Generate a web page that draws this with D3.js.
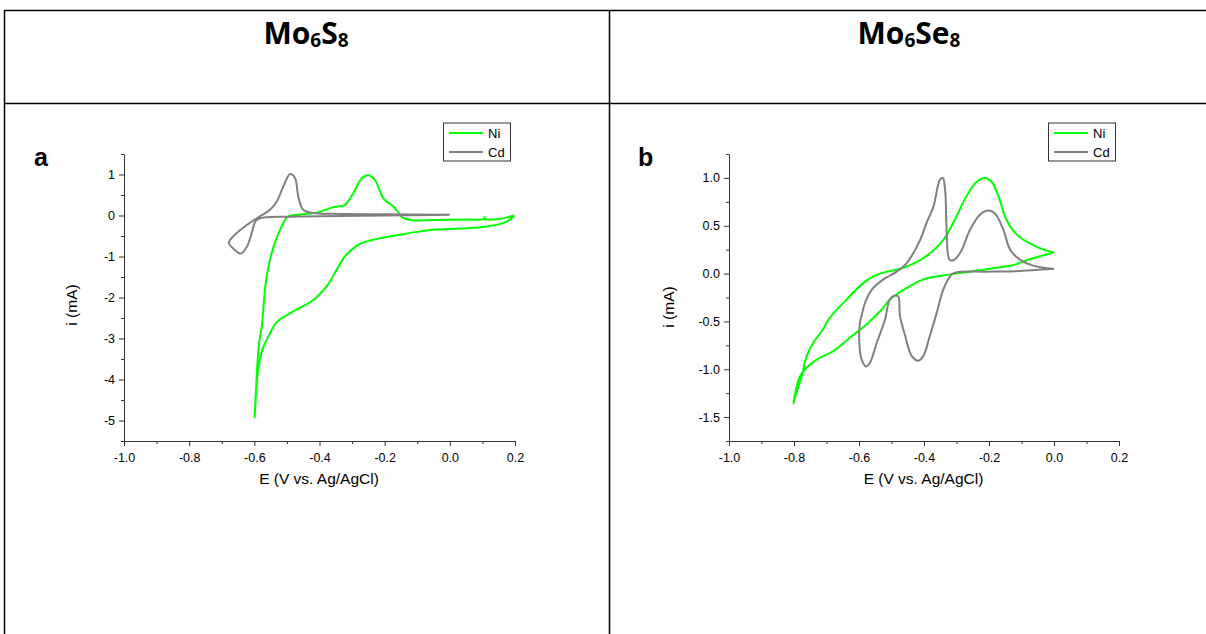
<!DOCTYPE html>
<html>
<head>
<meta charset="utf-8">
<script src="https://cdn.jsdelivr.net/npm/d3@7"></script>
<style>
  html, body { margin: 0; padding: 0; background: #fff; }
  svg { display: block; }
  text { font-family: "Liberation Sans", Arial, sans-serif; fill: #000; }
</style>
</head>
<body>
<div id="chart"></div>
<script>
// ---------- DATA ----------
const headers = ["Mo6S8", "Mo6Se8"];
const panelLetters = ["a", "b"];
const seriesNames = ["Ni", "Cd"];
const xTicks = [-1.0, -0.8, -0.6, -0.4, -0.2, 0.0, 0.2];
const yTicksA = [-5, -4, -3, -2, -1, 0, 1];
const yTicksB = [-1.5, -1.0, -0.5, 0.0, 0.5, 1.0];
const xDomain = [-1.0, 0.2];
const yDomainA = [-5.5, 1.5];
const yDomainB = [-1.75, 1.25];
const xLabel = "E (V vs. Ag/AgCl)";
const yLabel = "i (mA)";

// Panel a, Ni: [E (V), i (mA)]
const niA = [
  [0.198, 0.0], [0.175, -0.15], [0.113, -0.27], [0.03, -0.32], [-0.052, -0.35],
  [-0.153, -0.47], [-0.255, -0.63], [-0.286, -0.74], [-0.322, -1.0], [-0.347, -1.32],
  [-0.378, -1.73], [-0.419, -2.06], [-0.48, -2.34], [-0.531, -2.6], [-0.557, -2.95],
  [-0.572, -3.2], [-0.583, -3.52], [-0.593, -4.09], [-0.599, -4.92], [-0.596, -4.5],
  [-0.592, -3.8], [-0.585, -3.1], [-0.577, -2.7], [-0.565, -1.65], [-0.547, -0.92],
  [-0.521, -0.35], [-0.496, -0.02], [-0.46, 0.02], [-0.409, 0.07], [-0.358, 0.2],
  [-0.322, 0.26], [-0.296, 0.55], [-0.27, 0.91], [-0.25, 0.98], [-0.23, 0.87],
  [-0.204, 0.42], [-0.173, 0.22], [-0.143, -0.06], [-0.112, -0.12], [-0.05, -0.11],
  [0.052, -0.1], [0.104, -0.09], [0.107, -0.04], [0.11, -0.09], [0.154, -0.08],
  [0.198, 0.0]
];
// Panel a, Cd
const cdA = [
  [0.0, 0.02], [-0.2, 0.0], [-0.4, -0.02], [-0.5, -0.03], [-0.56, -0.04],
  [-0.583, -0.07], [-0.597, -0.15], [-0.608, -0.43], [-0.623, -0.76], [-0.642, -0.93],
  [-0.66, -0.84], [-0.678, -0.67], [-0.665, -0.51], [-0.623, -0.23], [-0.583, -0.02],
  [-0.552, 0.14], [-0.531, 0.34], [-0.511, 0.71], [-0.49, 1.01], [-0.475, 0.91],
  [-0.465, 0.46], [-0.45, 0.14], [-0.419, 0.06], [-0.358, 0.04], [-0.2, 0.03],
  [0.0, 0.02]
];
// Panel b, Ni
const niB = [
  [0.0, 0.22], [-0.053, 0.28], [-0.115, 0.41], [-0.146, 0.56], [-0.171, 0.81],
  [-0.192, 0.96], [-0.212, 1.0], [-0.238, 0.96], [-0.269, 0.81], [-0.3, 0.6],
  [-0.341, 0.35], [-0.402, 0.16], [-0.464, 0.06], [-0.525, 0.01], [-0.556, -0.03],
  [-0.587, -0.1], [-0.638, -0.27], [-0.694, -0.48], [-0.71, -0.58], [-0.74, -0.72],
  [-0.761, -0.86], [-0.776, -1.07], [-0.792, -1.24], [-0.802, -1.36], [-0.785, -1.1],
  [-0.771, -1.02], [-0.73, -0.9], [-0.679, -0.81], [-0.628, -0.67], [-0.576, -0.53],
  [-0.561, -0.48], [-0.53, -0.375], [-0.505, -0.27], [-0.453, -0.15], [-0.402, -0.06],
  [-0.341, -0.02], [-0.279, 0.01], [-0.197, 0.05], [-0.125, 0.09], [-0.084, 0.14],
  [0.0, 0.22]
];
// Panel b, Cd
const cdB = [
  [0.0, 0.05], [-0.12, 0.025], [-0.21, 0.02], [-0.3, 0.015], [-0.315, -0.01],
  [-0.341, -0.17], [-0.36, -0.4], [-0.382, -0.65], [-0.402, -0.86],
  [-0.417, -0.91], [-0.438, -0.86], [-0.458, -0.65], [-0.474, -0.44], [-0.479, -0.24],
  [-0.489, -0.23], [-0.505, -0.27], [-0.52, -0.48], [-0.545, -0.72], [-0.566, -0.93],
  [-0.578, -0.97], [-0.592, -0.9], [-0.599, -0.72], [-0.597, -0.51], [-0.592, -0.44],
  [-0.582, -0.31], [-0.561, -0.17], [-0.525, -0.06], [-0.484, 0.02], [-0.453, 0.11],
  [-0.412, 0.35], [-0.392, 0.53], [-0.371, 0.7], [-0.351, 0.98], [-0.342, 1.0],
  [-0.335, 0.875], [-0.33, 0.42], [-0.322, 0.146], [-0.31, 0.14], [-0.289, 0.215],
  [-0.258, 0.46], [-0.228, 0.615], [-0.202, 0.66], [-0.182, 0.63], [-0.156, 0.46],
  [-0.135, 0.25], [-0.105, 0.146], [-0.064, 0.083], [0.0, 0.05]
];

const colors = { Ni: "#00ff00", Cd: "#808080" };

// ---------- LAYOUT ----------
const W = 1206, H = 634;
const svg = d3.select("#chart").append("svg").attr("width", W).attr("height", H);

// table lines
const tbl = svg.append("g").attr("stroke", "#000").attr("stroke-width", 1.5);
tbl.append("line").attr("x1", 4).attr("x2", W).attr("y1", 10.5).attr("y2", 10.5);
tbl.append("line").attr("x1", 4).attr("x2", W).attr("y1", 103.5).attr("y2", 103.5);
tbl.append("line").attr("x1", 4.5).attr("x2", 4.5).attr("y1", 10).attr("y2", H);
tbl.append("line").attr("x1", 609.5).attr("x2", 609.5).attr("y1", 10).attr("y2", H);

// headers with subscripts
function header(label, cx) {
  const t = svg.append("text").attr("x", cx).attr("y", 47)
    .attr("text-anchor", "middle").style("font-weight", "bold").style("font-size", "30px")
    .style("font-family", "'Open Sans', 'Liberation Sans', sans-serif");
  const parts = label.match(/[A-Za-z]+|\d+/g);
  parts.forEach(p => {
    if (/\d/.test(p)) {
      t.append("tspan").text(p).style("font-size", "19px").attr("dy", 3);
    } else {
      t.append("tspan").text(p).attr("dy", t.selectAll("tspan").size() ? -3 : 0);
    }
  });
}
header(headers[0], 306);
header(headers[1], 909);

const panels = [
  { letter: panelLetters[0], x0: 124, x1: 515, yDom: yDomainA, yTicks: yTicksA,
    yMinorStep: 0.5, yFmt: d => d3.format("d")(d).replace("−", "-"),
    ni: niA, cd: cdA, lx: 443, ytx: 77, yty: 305 },
  { letter: panelLetters[1], x0: 729, x1: 1119, yDom: yDomainB, yTicks: yTicksB,
    yMinorStep: 0.25, yFmt: d => d.toFixed(1),
    ni: niB, cd: cdB, lx: 1048, ytx: 674, yty: 307 }
];
const yTop = 154, yBot = 441;

panels.forEach((p, pi) => {
  const x = d3.scaleLinear().domain(xDomain).range([p.x0, p.x1]);
  const y = d3.scaleLinear().domain(p.yDom).range([yBot, yTop]);
  const g = svg.append("g");

  // minor ticks
  const xMinor = d3.range(-0.9, 0.2, 0.2).map(v => +v.toFixed(2));
  const yMinor = d3.range(p.yDom[0], p.yDom[1] + 1e-9, p.yMinorStep)
    .map(v => +v.toFixed(3)).filter(v => !p.yTicks.some(t => Math.abs(t - v) < 1e-6));

  g.append("g").attr("transform", `translate(0,${yBot})`)
    .call(d3.axisBottom(x).tickValues(xMinor).tickSize(3).tickFormat("").tickSizeOuter(0))
    .call(a => a.select(".domain").remove());
  g.append("g").attr("transform", `translate(${p.x0},0)`)
    .call(d3.axisLeft(y).tickValues(yMinor).tickSize(3).tickFormat("").tickSizeOuter(0))
    .call(a => a.select(".domain").remove());

  const xa = g.append("g").attr("transform", `translate(0,${yBot})`)
    .call(d3.axisBottom(x).tickValues(xTicks).tickSize(5).tickPadding(7)
      .tickFormat(d => d.toFixed(1)).tickSizeOuter(0));
  const ya = g.append("g").attr("transform", `translate(${p.x0},0)`)
    .call(d3.axisLeft(y).tickValues(p.yTicks).tickSize(5).tickPadding(4)
      .tickFormat(p.yFmt).tickSizeOuter(0));
  [xa, ya].forEach(a => {
    a.selectAll("path, line").attr("stroke", "#333").attr("stroke-width", 1);
    a.selectAll("text").style("font-size", "12.5px").style("font-family", "'Liberation Sans', Arial, sans-serif").attr("fill", "#000");
  });
  g.selectAll(".tick line").attr("stroke", "#333");

  // axis titles
  g.append("text").attr("x", (p.x0 + p.x1) / 2 - 0.5).attr("y", 484)
    .attr("text-anchor", "middle").style("font-size", "15.5px").text(xLabel);
  g.append("text").attr("transform", `translate(${p.ytx},${p.yty}) rotate(-90)`)
    .attr("text-anchor", "middle").style("font-size", "15.5px").text(yLabel);

  // panel letter
  svg.append("text").attr("x", pi === 0 ? 34 : 638).attr("y", 166)
    .style("font-weight", "bold").style("font-size", "25px").text(p.letter);

  // curves
  const line = d3.line().x(d => x(d[0])).y(d => y(d[1]))
    .curve(d3.curveCatmullRom.alpha(0.5));
  [["Ni", p.ni], ["Cd", p.cd]].forEach(([name, data]) => {
    g.append("path").datum(data).attr("d", line)
      .attr("fill", "none").attr("stroke", colors[name])
      .attr("stroke-width", 2).attr("stroke-linejoin", "round");
  });

  // legend
  const lg = svg.append("g").attr("transform", `translate(${p.lx},122.5)`);
  lg.append("rect").attr("x", 0.5).attr("y", 0.5).attr("width", 67).attr("height", 38)
    .attr("fill", "#fff").attr("stroke", "#333").attr("stroke-width", 1);
  seriesNames.forEach((n, i) => {
    const yy = 10.5 + i * 19;
    lg.append("line").attr("x1", 6).attr("x2", 40).attr("y1", yy).attr("y2", yy)
      .attr("stroke", colors[n]).attr("stroke-width", 2);
    lg.append("text").attr("x", 45).attr("y", yy + 4.5).style("font-size", "13px").text(n);
  });
});
</script>
</body>
</html>
